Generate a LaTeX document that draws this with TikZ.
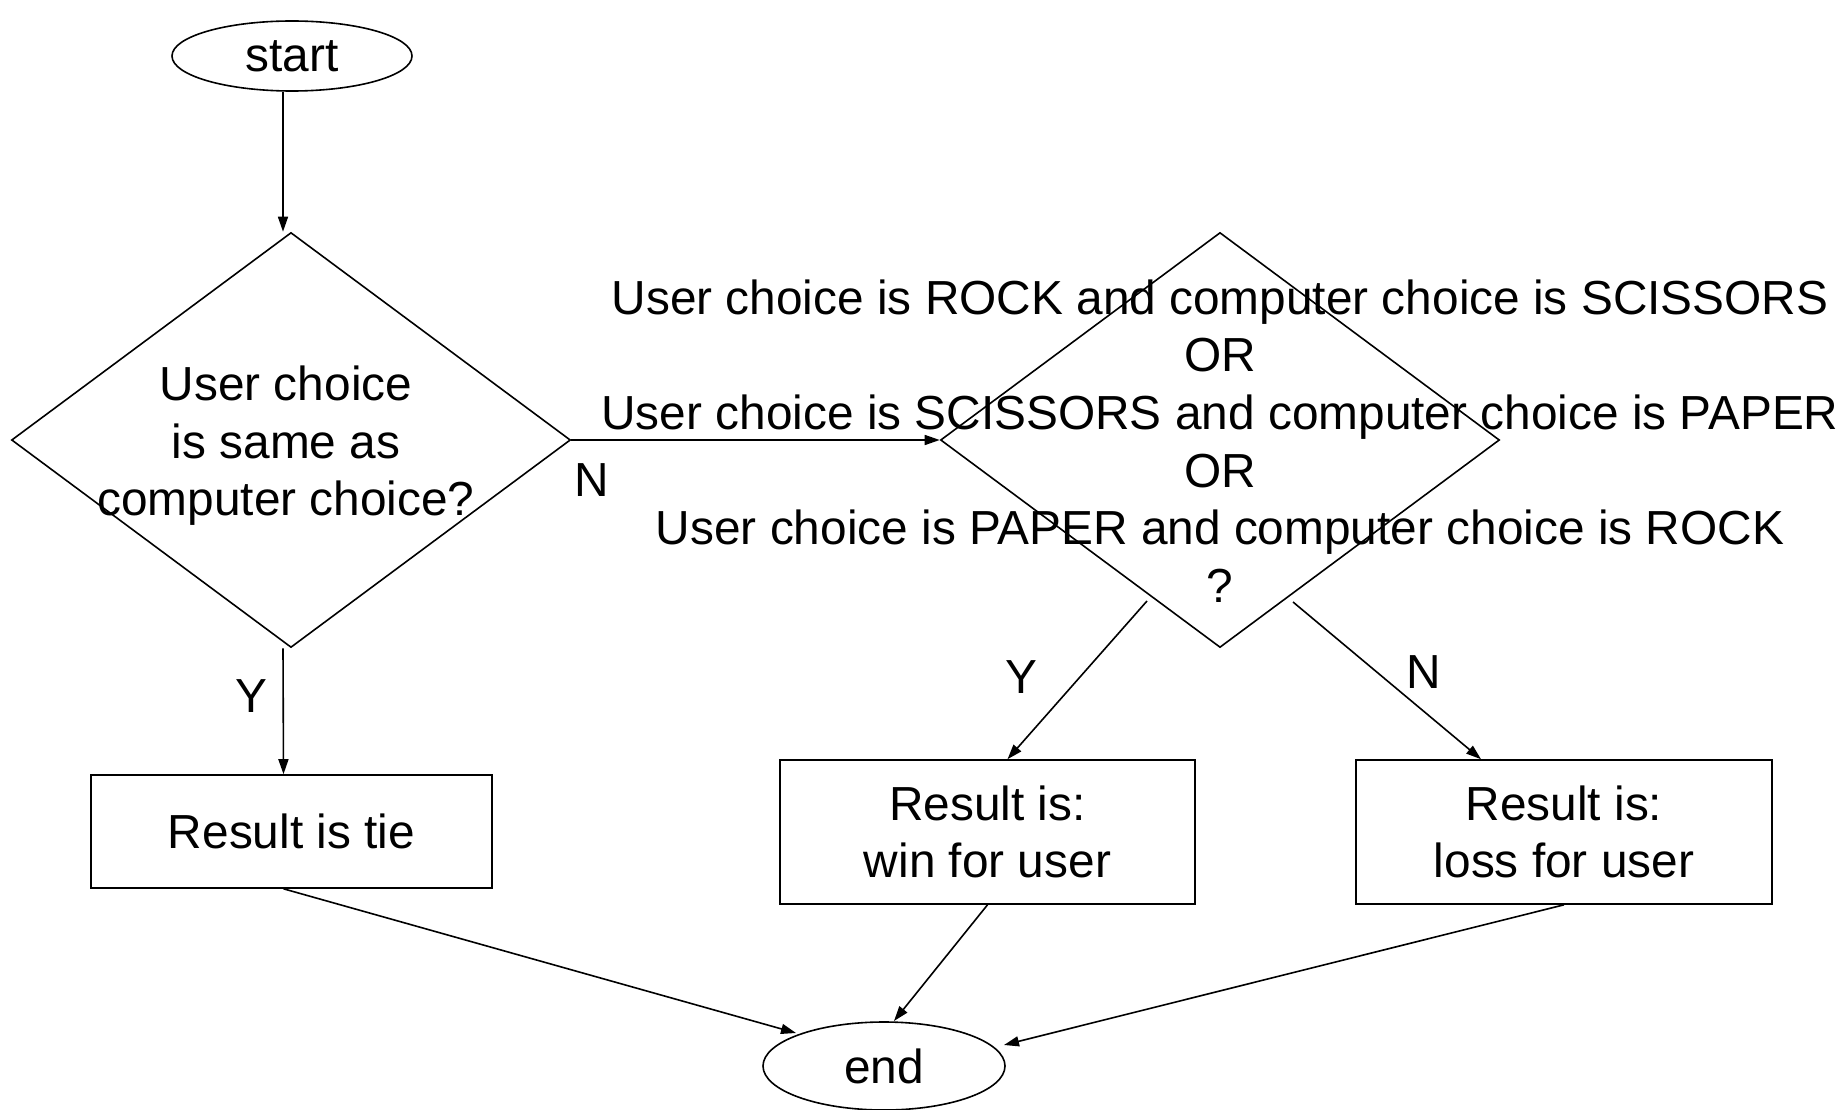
\documentclass[tikz,border=0pt]{standalone}
\usepackage{fontspec}
\setmainfont{Liberation Sans}
\usetikzlibrary{shapes.geometric,arrows.meta,calc}
\begin{document}
\begin{tikzpicture}[x=1pt,y=-1pt,
  every node/.style={font=\fontsize{47.8}{57.6}\selectfont},
  arr/.style={line width=1.6pt,-{Triangle[length=15pt,width=10pt]}},
  terminal/.style={draw,ellipse,line width=1.6pt,inner sep=0pt,minimum width=242pt,minimum height=88pt},
  decision/.style={draw,diamond,line width=1.6pt,inner sep=0pt,minimum width=559pt,minimum height=415pt},
  outcome/.style={draw,rectangle,line width=1.6pt,inner sep=0pt,align=center},
  lbl/.style={inner sep=0pt}
]
\useasboundingbox (0,0) rectangle (1836,1110);

% terminals
\node[terminal, minimum width=240pt, minimum height=70pt] (start) at (292,56) {start};
\node[terminal] (endn) at (884,1066) {end};

% decisions (shapes and their text kept apart so the text may overhang)
\node[decision] (d1) at (291,440) {};
\node[lbl, align=center] (d1t) at (286,446) {User choice\\is same as\\computer choice?};
\node[decision] (d2) at (1220,440) {};
\node[lbl, align=center] (d2t) at (1220,441) {User choice is ROCK and computer choice is SCISSORS\\OR\\User choice is SCISSORS and computer choice is PAPER\\OR\\User choice is PAPER and computer choice is ROCK\\?};

% outcomes
\node[outcome, minimum width=401pt, minimum height=113pt] (tie) at (291.5,831.5) {Result is tie};
\node[outcome, minimum width=415pt, minimum height=144pt] (win) at (987.5,832) {Result is:\\win for user};
\node[outcome, minimum width=416pt, minimum height=144pt] (loss) at (1564,832) {Result is:\\loss for user};

% connectors
\draw[arr] ($(start.south)+(-9,0)$) -- ($(d1.north)+(-8,0)$);
\draw[arr] (d1.east) -- (d2.west);
\draw[arr] ($(d1.south)+(-8,0)$) -- ($(tie.north)+(-8,0)$);
\draw[arr] ($(d2.center)+(-73,161)$) -- ($(win.north)+(20,0)$);
\draw[arr] ($(d2.center)+(73,162)$) -- ($(loss.north)+(-83,0)$);
\draw[arr] ($(tie.south)+(-8,0)$) -- ($(endn.center)+(-88,-33)$);
\draw[arr] (win.south) -- ($(endn.center)+(10,-45)$);
\draw[arr] (loss.south) -- ($(endn.center)+(120,-21)$);

% branch labels
\node[lbl] (n1) at (592,480) {N};
\node[lbl] (y1) at (251,696) {Y};
\node[lbl] (y2) at (1021,677) {Y};
\node[lbl] (n2) at (1424,672) {N};
\end{tikzpicture}
\end{document}
